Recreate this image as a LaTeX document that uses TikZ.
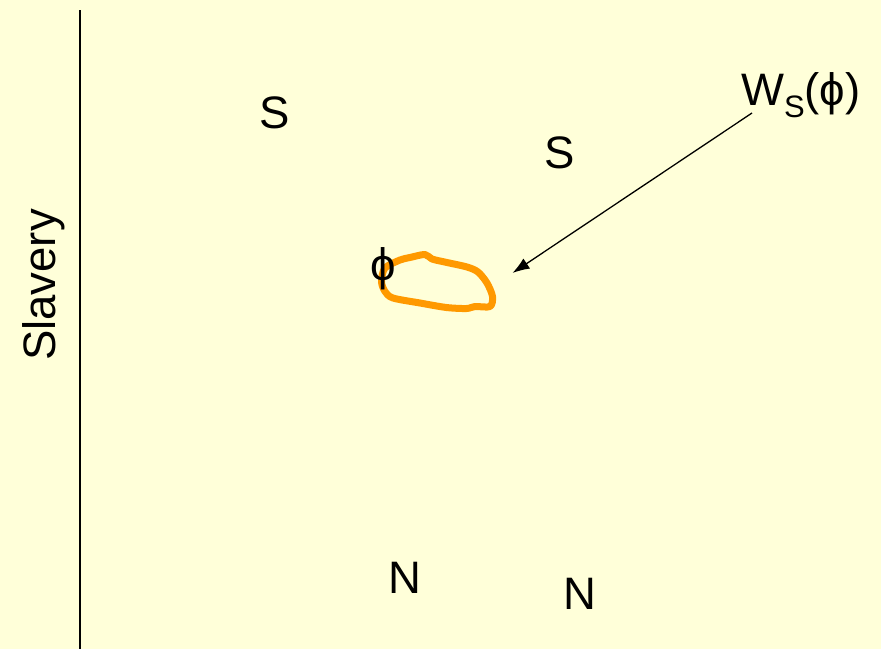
\documentclass[tikz,border=0pt]{standalone}
\usepackage{fontspec}
\setmainfont{Liberation Sans}
\usepackage{tikz}
\usetikzlibrary{arrows.meta}
\definecolor{bgyellow}{RGB}{255,255,217}
\definecolor{bloborange}{RGB}{255,153,0}
\tikzset{
  lbl/.style={inner sep=0pt, font=\fontsize{45.5}{54}\selectfont},
}
\begin{document}
\begin{tikzpicture}[x=1pt,y=-1pt]
    % background
    \fill[bgyellow] (0,0) rectangle (881,649);
    \useasboundingbox (0,0) rectangle (881,649);
    % vertical axis
    \coordinate (axtop) at (80,10);
    \coordinate (axbot) at (80,649);
    \draw[line width=2pt] (axtop) -- (axbot);
    \node[lbl,rotate=90,anchor=base] (slavery) at (55,285) {Slavery};
    % labels
    \node[lbl] (s1) at (275,113) {S};
    \node[lbl] (s2) at (560,153) {S};
    \node[lbl] (n1) at (405,578) {N};
    \node[lbl] (n2) at (580,594) {N};
    \node[lbl,anchor=base west] (wlabel) at (741,105) {W\raisebox{-12pt}{\fontsize{31}{34}\selectfont S}(ϕ)};
    % orange region
    \draw[bloborange,line width=7pt,line join=round] plot[smooth cycle,tension=0.5] coordinates {
      (385,268) (400,260) (410,257.5) (425,254.5) (432,259) (447,262.5)
      (467,267) (478,272) (487,283) (492.5,296.5) (490,306.5) (475,306.5)
      (466.5,308.5) (446.5,307.5) (420,303) (393,298) (385,291.5) (381.5,281.5)};
    \node[lbl,anchor=base] (phi) at (383,280) {ϕ};
    % arrow to region
    \coordinate (arrstart) at (752,113);
    \coordinate (arrtip) at (512.5,273);
    \draw[-{Latex[length=17pt,width=12pt]},line width=1.3pt] (arrstart) -- (arrtip);
\end{tikzpicture}
\end{document}
